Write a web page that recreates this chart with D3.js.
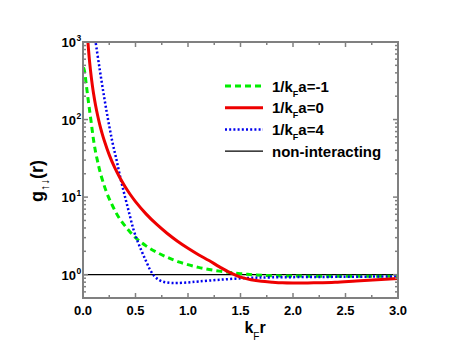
<!DOCTYPE html>
<html><head><meta charset="utf-8">
<script src="https://cdn.jsdelivr.net/npm/d3@7"></script>
<style>body{margin:0;background:#fff}svg{display:block}text{font-family:"Liberation Sans",Arial,sans-serif}</style>
</head><body>
<script>
// ---- data ----
const greenR = [0.005,0.016,0.03,0.045,0.06,0.08,0.1,0.12,0.14,0.16,0.19,0.23,0.28,0.34,0.42,0.5,0.6,0.7,0.8,0.92,1.1,1.3,1.5,1.7,2.0,2.5,3.0];
const greenG = [470,411,290,200,140,88,55,38,28.5,21.8,15.8,11.0,7.8,5.5,3.95,3.0,2.35,1.95,1.68,1.45,1.24,1.11,1.03,0.98,0.96,0.955,0.955];
const redR = [0.04,0.05,0.06,0.07,0.08,0.09,0.1,0.12,0.14,0.16,0.18,0.2,0.25,0.3,0.35,0.4,0.45,0.5,0.6,0.7,0.8,0.9,1.0,1.1,1.2,1.3,1.4,1.5,1.6,1.7,1.8,1.9,2.0,2.1,2.2,2.4,2.6,2.8,3.0];
const redG = [1369,876,608,447,342,270,219,152,112,85.5,67.6,54.8,35.0,24.3,17.9,13.7,10.8,8.76,6.08,4.47,3.42,2.70,2.19,1.81,1.52,1.26,1.06,0.93,0.86,0.82,0.80,0.785,0.78,0.78,0.785,0.80,0.83,0.86,0.89];
const blueR = [0.11,0.12,0.16,0.2,0.24,0.28,0.32,0.36,0.4,0.44,0.48,0.52,0.56,0.6,0.64,0.68,0.72,0.76,0.8,0.85,0.9,1.0,1.1,1.3,1.56,1.8,2.2,2.6,3.0];
const blueG = [1230,1000,437,200,97.7,51.3,29.9,16.8,10.1,6.21,3.85,2.69,1.99,1.5,1.15,0.955,0.861,0.813,0.791,0.78,0.78,0.794,0.817,0.859,0.906,0.923,0.933,0.94,0.95];
const nonIntR = [0,3];
const nonIntG = [1,1];
const xTicks = [0,0.5,1.0,1.5,2.0,2.5,3.0];
const yTicks = [1,10,100,1000];
const seriesNames = ["1/k|F|a=-1","1/k|F|a=0","1/k|F|a=4","non-interacting"];

// ---- layout ----
const W=463,H=358, L=83, T=42, R=398, B=298;
const svg=d3.select("body").append("svg").attr("width",W).attr("height",H);
const x=d3.scaleLinear().domain([0,3]).range([L,R]);
const y=d3.scaleLog().domain([0.5,1000]).range([B,T]);
const frameCol="#808080";

svg.append("defs").append("clipPath").attr("id","clip")
  .append("rect").attr("x",L).attr("y",T).attr("width",R-L).attr("height",B-T);

const line=d3.line().x(d=>x(d[0])).y(d=>y(d[1])).curve(d3.curveCatmullRom.alpha(0.5));
const g=svg.append("g").attr("clip-path","url(#clip)");
const styles=[
  {r:greenR,v:greenG,c:"#00ee00",w:3,da:"6,4"},
  {r:redR,v:redG,c:"#ee0000",w:3,da:null},
  {r:blueR,v:blueG,c:"#0000ee",w:2.5,da:"2,2.2"},
  {r:nonIntR,v:nonIntG,c:"#000",w:1.3,da:null}
];
[3,0,2,1].forEach(i=>{
  const s=styles[i];
  g.append("path").datum(s.r.map((d,j)=>[d,s.v[j]]))
   .attr("d",line).attr("fill","none").attr("stroke",s.c)
   .attr("stroke-width",s.w).attr("stroke-dasharray",s.da);
});

// ---- axes ----
const minorY=[0.5,0.6,0.7,0.8,0.9];
[1,10,100].forEach(dec=>{for(let k=2;k<=9;k++)minorY.push(dec*k);});
const minorX=d3.range(0.25,3,0.5);

const ax=svg.append("g").attr("stroke",frameCol);
function tickLines(vals, len, isX){
  vals.forEach(v=>{
    if(isX){
      const px=x(v);
      ax.append("line").attr("x1",px).attr("x2",px).attr("y1",B).attr("y2",B-len).attr("stroke-width",1.5);
      ax.append("line").attr("x1",px).attr("x2",px).attr("y1",T).attr("y2",T+len).attr("stroke-width",1.5);
    } else {
      const py=y(v);
      ax.append("line").attr("x1",L).attr("x2",L+len).attr("y1",py).attr("y2",py).attr("stroke-width",1.5);
      ax.append("line").attr("x1",R).attr("x2",R-len).attr("y1",py).attr("y2",py).attr("stroke-width",1.5);
    }
  });
}
tickLines(xTicks,5,true);
tickLines(minorX,3,true);
tickLines(yTicks,5,false);
tickLines(minorY,3,false);
svg.append("rect").attr("x",L).attr("y",T).attr("width",R-L).attr("height",B-T)
  .attr("fill","none").attr("stroke",frameCol).attr("stroke-width",2);

// x tick labels
svg.append("g").selectAll("text").data(xTicks).join("text")
  .attr("x",d=>x(d)).attr("y",315).attr("text-anchor","middle")
  .attr("font-size",13).attr("font-weight","bold").text(d=>d.toFixed(1));

// y tick labels
yTicks.forEach(v=>{
  svg.append("text").attr("x",76).attr("y",y(v)+5).attr("text-anchor","end")
    .attr("font-size",13).attr("font-weight","bold").text("10");
  svg.append("text").attr("x",76.5).attr("y",y(v)-1).attr("font-size",8.5)
    .attr("font-weight","bold").text(Math.round(Math.log10(v)));
});

// axis titles
const xt=svg.append("text").attr("x",255).attr("y",333).attr("text-anchor","middle")
  .attr("font-size",16).attr("font-weight","bold");
xt.append("tspan").text("k");
xt.append("tspan").attr("dy",7).attr("font-size",10).attr("font-weight","normal").text("F");
xt.append("tspan").attr("dy",-7).text("r");

const yt=svg.append("text").attr("transform","translate(43,181) rotate(-90)")
  .attr("text-anchor","middle").attr("font-size",18).attr("font-weight","bold");
yt.append("tspan").text("g");
yt.append("tspan").attr("dy",6).attr("font-size",12).attr("font-weight","normal").text("↑↓");
yt.append("tspan").attr("dy",-6).text("(r)");

// legend
const legY0=86, legStep=21.7;
styles.forEach((s,i)=>{
  const ly=legY0+i*legStep;
  svg.append("line").attr("x1",225).attr("x2",263).attr("y1",ly).attr("y2",ly)
    .attr("stroke",s.c).attr("stroke-width",s.w).attr("stroke-dasharray",s.da);
  const t=svg.append("text").attr("x",272).attr("y",ly+5.5).attr("font-size",15).attr("font-weight","bold");
  const parts=seriesNames[i].split("|");
  if(parts.length===3){
    t.append("tspan").text(parts[0]);
    t.append("tspan").attr("dy",5).attr("font-size",9).text(parts[1]);
    t.append("tspan").attr("dy",-5).text(parts[2]);
  } else t.text(parts[0]);
});
</script>
</body></html>
